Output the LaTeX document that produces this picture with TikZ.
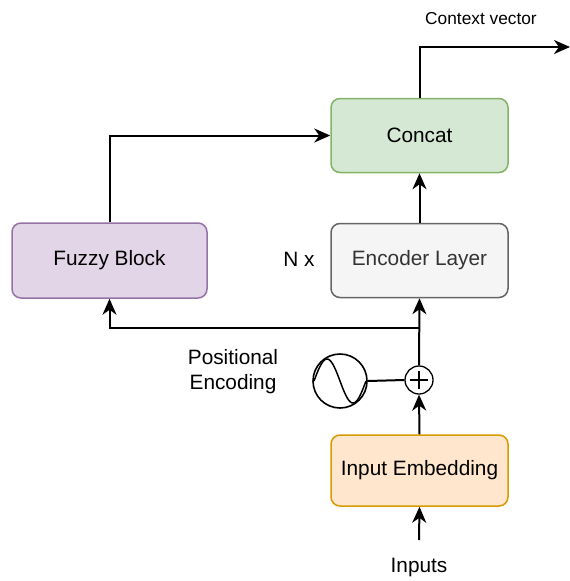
\documentclass[tikz,border=0pt]{standalone}
\usepackage{fontspec}
\setmainfont{Liberation Sans}
\usetikzlibrary{arrows.meta}

\definecolor{grnfill}{HTML}{D5E8D4}
\definecolor{grnline}{HTML}{82B366}
\definecolor{gryfill}{HTML}{F5F5F5}
\definecolor{gryline}{HTML}{666666}
\definecolor{grytext}{HTML}{333333}
\definecolor{purfill}{HTML}{E1D5E7}
\definecolor{purline}{HTML}{9673A6}
\definecolor{orgfill}{HTML}{FFE6CC}
\definecolor{orgline}{HTML}{D79B00}

\tikzset{
  block/.style={draw, rounded corners=9pt, line width=1.5pt,
    minimum width=177pt, minimum height=74pt, inner sep=0pt,
    font=\fontsize{20.8}{25}\selectfont},
  label/.style={inner sep=0pt, font=\fontsize{20.8}{25}\selectfont, align=center},
  conn/.style={line width=2pt, -{Stealth[length=16pt,width=14pt,inset=5pt]}},
  wire/.style={line width=2pt},
}

\begin{document}
\begin{tikzpicture}[x=1pt,y=-1pt]
\useasboundingbox (0,0) rectangle (570,581);

% blocks
\node[block, fill=grnfill, draw=grnline] (concat) at (419.5,135.5) {Concat};
\node[block, fill=gryfill, draw=gryline, text=grytext] (enc) at (419.5,260.5) {Encoder Layer};
\node[block, fill=purfill, draw=purline, minimum width=195pt, minimum height=75pt] (fuzzy) at (109.5,260.5) {Fuzzy Block};
\node[block, fill=orgfill, draw=orgline, minimum height=71pt] (emb) at (419.5,470.5) {Input Embedding};

% positional encoding: sine source and adder
\node[draw, circle, line width=1.6pt, minimum size=54pt, inner sep=0pt] (sine) at (340,381) {};
\draw[line width=1.5pt] plot[domain=0:1, samples=60, smooth]
  ({314 + 52*\x}, {381 - 22*sin(360*\x)});
\node[draw, circle, line width=1.3pt, minimum size=28pt, inner sep=0pt] (plus) at (419,380) {};
\draw[line width=1.2pt] (plus.center) ++(-9,0) -- ++(18,0);
\draw[line width=1.2pt] (plus.center) ++(0,-9) -- ++(0,18);

% labels
\node[label] (ctxlbl) at (481,19) {\fontsize{17.3}{20}\selectfont Context vector};
\node[label] (nx) at (299,259) {N x};
\node[label] (poslbl) at (233,372) {Positional\\Encoding};
\node[label] (inputs) at (419,567) {Inputs};

% connectors
\coordinate (inStart) at (419,540);
\coordinate (split) at (419,328);
\coordinate (ctxEnd) at (570,47);

\draw[conn] (inStart) -- (emb.south);
\draw[conn] (emb.north) -- (plus.south);
\draw[wire] (sine.east) -- (plus.west);
\draw[conn] (plus.north) -- (enc.south);
\draw[conn] (split) -| (fuzzy.south);
\draw[conn] (enc.north) -- (concat.south);
\draw[conn] (fuzzy.north) |- (concat.west);
\draw[conn] (concat.north) |- (ctxEnd);
\end{tikzpicture}
\end{document}
